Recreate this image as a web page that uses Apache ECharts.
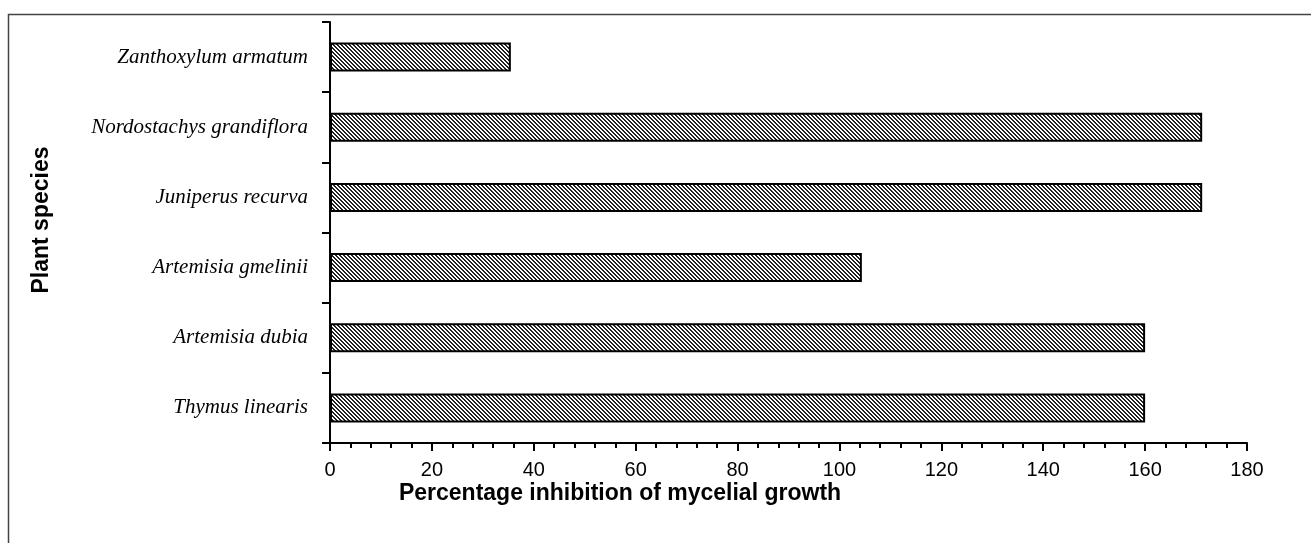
<!DOCTYPE html>
<html>
<head>
<meta charset="utf-8">
<script src="https://cdn.jsdelivr.net/npm/echarts@6/dist/echarts.min.js"></script>
<style>html,body{margin:0;padding:0;background:#fff;}#c{width:1311px;height:543px;}</style>
</head>
<body>
<div id="c"></div>
<script>
var categories = ['Thymus linearis', 'Artemisia dubia', 'Artemisia gmelinii', 'Juniperus recurva', 'Nordostachys grandiflora', 'Zanthoxylum armatum'];
var values = [160, 160, 104.4, 171.2, 171.2, 35.5];
var xTicks = [0, 20, 40, 60, 80, 100, 120, 140, 160, 180];

var tile = document.createElement('canvas');
tile.width = 4; tile.height = 4;
var tc = tile.getContext('2d');
tc.fillStyle = '#ffffff'; tc.fillRect(0, 0, 4, 4);
tc.fillStyle = '#222222';
for (var yy = 0; yy < 4; yy++) {
  for (var xx = 0; xx < 4; xx++) {
    if (((xx - yy) % 4 + 4) % 4 < 2) tc.fillRect(xx, yy, 1, 1);
  }
}

var chart = echarts.init(document.getElementById('c'), null, {renderer: 'canvas'});
chart.setOption({
  animation: false,
  backgroundColor: '#fff',
  grid: {left: 330, right: 64, top: 22, bottom: 100, containLabel: false},
  xAxis: {
    type: 'value', min: xTicks[0], max: xTicks[xTicks.length - 1], interval: 20,
    axisLine: {show: true, lineStyle: {color: '#000', width: 2}},
    axisTick: {show: true, length: 8, lineStyle: {color: '#000', width: 2}},
    minorTick: {show: true, splitNumber: 5, length: 5, lineStyle: {color: '#000', width: 2}},
    splitLine: {show: false},
    axisLabel: {color: '#000', fontFamily: 'Liberation Sans', fontSize: 20, margin: 17}
  },
  yAxis: {
    type: 'category', data: categories,
    axisLine: {show: true, lineStyle: {color: '#000', width: 2}},
    axisTick: {show: true, length: 8, inside: false, lineStyle: {color: '#000', width: 2}},
    axisLabel: {color: '#000', fontFamily: 'Liberation Serif', fontStyle: 'italic', fontSize: 21, margin: 22}
  },
  series: [{
    type: 'bar', data: values, barWidth: 29,
    itemStyle: {color: {image: tile, repeat: 'repeat'}, borderColor: '#000', borderWidth: 2}
  }],
  graphic: [
    {type: 'rect', shape: {x: 8.5, y: 14.5, width: 1400, height: 600}, style: {fill: 'none', stroke: '#444', lineWidth: 1.5}, silent: true},
    {type: 'text', x: 620, y: 494, style: {text: 'Percentage inhibition of mycelial growth', fontFamily: 'Liberation Sans', fontWeight: 'bold', fontSize: 23, fill: '#000', align: 'center', verticalAlign: 'middle'}},
    {type: 'text', x: 42, y: 220, rotation: Math.PI / 2, style: {text: 'Plant species', fontFamily: 'Liberation Sans', fontWeight: 'bold', fontSize: 23, fill: '#000', align: 'center', verticalAlign: 'middle'}}
  ]
});
</script>
</body>
</html>
